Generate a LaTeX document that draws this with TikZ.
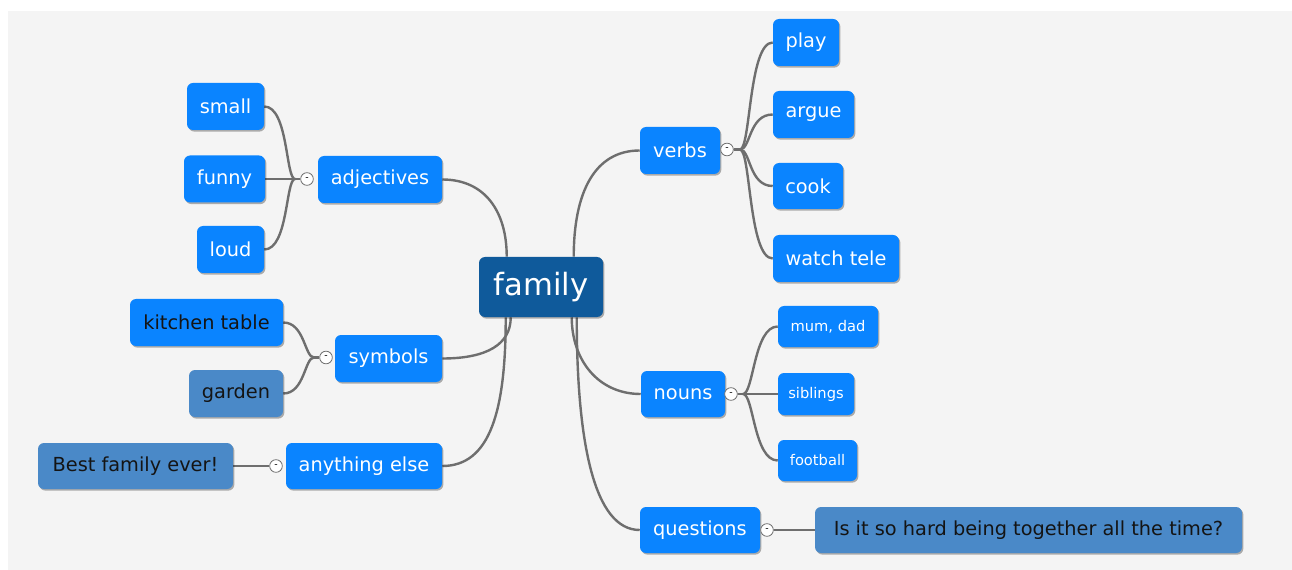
\documentclass[tikz,border=0pt]{standalone}
\usepackage{fontspec}
\setmainfont{DejaVu Sans}
\usetikzlibrary{shadows,calc}
\definecolor{panel}{HTML}{F4F4F4}
\definecolor{bblue}{HTML}{0A84FF}
\definecolor{sblue}{HTML}{4A89C8}
\definecolor{dblue}{HTML}{0F5A9B}
\definecolor{lnk}{HTML}{6E6E6E}
\definecolor{dtxt}{HTML}{141414}
\pgfdeclarelayer{bgl}
\pgfsetlayers{bgl,main}
\newcommand{\tgdash}{\raisebox{-1.6pt}{-}}
\begin{document}
\begin{tikzpicture}[x=0.75pt,y=-0.75pt,
  wh/.style 2 args={minimum width=#1*0.75pt, minimum height=#2*0.75pt},
  tb/.style={rounded corners=4.5pt, inner sep=0pt, font=\fontsize{14.5}{17}\selectfont,
    drop shadow={shadow xshift=1pt, shadow yshift=-1.2pt, opacity=0.3, fill=black}},
  bright/.style={tb, fill=bblue, text=white},
  brightdk/.style={tb, fill=bblue, text=dtxt},
  steel/.style={tb, fill=sblue, text=dtxt},
  smallt/.style={font=\fontsize{11}{13}\selectfont},
  central/.style={tb, fill=dblue, text=white, font=\fontsize{23}{27}\selectfont},
  link/.style={draw=lnk, line width=1.8pt},
  tog/.style={circle, draw=lnk, line width=0.6pt, fill=white, minimum size=9.5pt, inner sep=0pt,
    font=\fontsize{7}{7}\selectfont, text=black}
]
\path[use as bounding box] (0,0) rectangle (1292,570);
\begin{pgfonlayer}{bgl}
\fill[white] (0,0) rectangle (1292,570);
\fill[panel] (8,11) rectangle (1292,570);
\end{pgfonlayer}

% central
\node[central, wh={124}{60}] (family) at (541,287) {family};

% left branches
\node[bright, wh={124}{47}] (adj) at (380,179.5) {adjectives};
\node[bright, wh={77}{47}] (small) at (225.5,106.5) {small};
\node[bright, wh={81}{47}] (funny) at (224.5,179) {funny};
\node[bright, wh={67}{47}] (loud) at (230.5,249.5) {loud};

\node[bright, wh={107}{47}] (sym) at (388.5,358.5) {symbols};
\node[brightdk, wh={153}{47}] (kitchen) at (206.5,322.5) {kitchen table};
\node[steel, wh={94}{47}] (garden) at (236,393.5) {garden};

\node[bright, wh={156}{46}] (any) at (364,466) {anything else};
\node[steel, wh={195}{46}] (best) at (135.5,466) {Best family ever!};

% right branches
\node[bright, wh={80}{47}] (verbs) at (680,150.5) {verbs};
\node[bright, wh={66}{47}] (play) at (806,42.5) {play};
\node[bright, wh={81}{47}] (argue) at (813.5,114.5) {argue};
\node[bright, wh={70}{46}] (cook) at (808,186) {cook};
\node[bright, wh={126}{47}] (watch) at (836,258.5) {watch tele};

\node[bright, wh={84}{46}] (nouns) at (683,394) {nouns};
\node[bright, smallt, wh={100}{41}] (mum) at (828,326.5) {mum, dad};
\node[bright, smallt, wh={76}{42}] (sib) at (816,394) {siblings};
\node[bright, smallt, wh={79}{41}] (foot) at (817.5,460.5) {football};

\node[bright, wh={120}{46}] (quest) at (700,530) {questions};
\node[steel, wh={427}{46}] (hard) at (1028.5,530) {Is it so hard being together all the time?};

% toggles
\node[tog] (tadj) at (307,179) {\tgdash};
\node[tog] (tsym) at (326,357.5) {\tgdash};
\node[tog] (tany) at (276,466) {\tgdash};
\node[tog] (tverbs) at (727,149.5) {\tgdash};
\node[tog] (tnouns) at (731,394) {\tgdash};
\node[tog] (tquest) at (767,530) {\tgdash};

% fork points and anchor points
\coordinate (fadj) at (295,179);
\coordinate (fsym) at (314,357.5);
\coordinate (fverbs) at (740,149.5);
\coordinate (fnouns) at (743,394);
\coordinate (fa) at ($(family.north west)+(28,0)$);
\coordinate (fv) at ($(family.north west)+(95,0)$);
\coordinate (fs) at ($(family.south west)+(32,0)$);
\coordinate (fy) at ($(family.south west)+(27,0)$);
\coordinate (fn) at ($(family.south west)+(93,0)$);
\coordinate (fq) at ($(family.south west)+(98,0)$);

\begin{pgfonlayer}{bgl}
% main branches
\draw[link] (adj.east) to[out=0,in=90,out distance=32pt,in distance=34pt] (fa);
\draw[link] (sym.east) to[out=0,in=-90,out distance=34pt,in distance=20pt] (fs);
\draw[link] (any.east) to[out=0,in=-90,out distance=36pt,in distance=70pt] (fy);
\draw[link] (verbs.west) to[out=180,in=90,out distance=34pt,in distance=48pt] (fv);
\draw[link] (nouns.west) to[out=180,in=-90,out distance=32pt,in distance=32pt] (fn);
\draw[link] (quest.west) to[out=180,in=-90,out distance=34pt,in distance=95pt] (fq);

% adjectives children
\draw[link] (tadj.west) -- (fadj);
\draw[link] (fadj) to[out=180,in=0,out distance=7pt,in distance=18pt] (small.east);
\draw[link] (fadj) -- (funny.east);
\draw[link] (fadj) to[out=180,in=0,out distance=7pt,in distance=18pt] (loud.east);
% symbols children
\draw[link] (tsym.west) -- (fsym);
\draw[link] (fsym) to[out=180,in=0,out distance=7pt,in distance=16pt] (kitchen.east);
\draw[link] (fsym) to[out=180,in=0,out distance=7pt,in distance=16pt] (garden.east);
% anything else
\draw[link] (tany.west) -- (best.east);
% verbs children
\draw[link] (tverbs.east) -- (fverbs);
\draw[link] (fverbs) to[out=0,in=180,out distance=8pt,in distance=18pt] (play.west);
\draw[link] (fverbs) to[out=0,in=180,out distance=8pt,in distance=18pt] (argue.west);
\draw[link] (fverbs) to[out=0,in=180,out distance=8pt,in distance=18pt] (cook.west);
\draw[link] (fverbs) to[out=0,in=180,out distance=8pt,in distance=18pt] (watch.west);
% nouns children
\draw[link] (tnouns.east) -- (fnouns);
\draw[link] (fnouns) to[out=0,in=180,out distance=8pt,in distance=18pt] (mum.west);
\draw[link] (fnouns) -- (sib.west);
\draw[link] (fnouns) to[out=0,in=180,out distance=8pt,in distance=18pt] (foot.west);
% questions
\draw[link] (tquest.east) -- (hard.west);
\end{pgfonlayer}
\end{tikzpicture}
\end{document}
